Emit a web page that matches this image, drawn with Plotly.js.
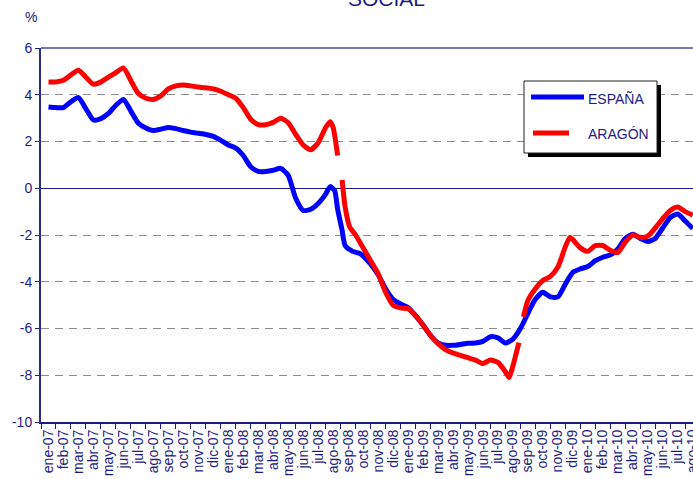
<!DOCTYPE html>
<html>
<head>
<meta charset="utf-8">
<script src="https://cdn.plot.ly/plotly-3.0.1.min.js"></script>
<style>html,body{margin:0;padding:0;overflow:hidden;background:#fff;}</style>
</head>
<body>
<div id="chart" style="width:693px;height:479px;"></div>
<script>
// Month categories (x axis)
const categories = ["ene-07","feb-07","mar-07","abr-07","may-07","jun-07","jul-07","ago-07","sep-07","oct-07","nov-07","dic-07",
  "ene-08","feb-08","mar-08","abr-08","may-08","jun-08","jul-08","ago-08","sep-08","oct-08","nov-08","dic-08",
  "ene-09","feb-09","mar-09","abr-09","may-09","jun-09","jul-09","ago-09","sep-09","oct-09","nov-09","dic-09",
  "ene-10","feb-10","mar-10","abr-10","may-10","jun-10","jul-10","ago-10"];

// ESPAÑA: position (month index) and value (%)
const espanaX = [0,0.5,1,1.5,2,2.5,3,3.5,4,4.5,5,5.5,6,6.5,7,7.5,8,8.5,9,9.5,10,10.5,11,11.5,12,12.5,13,13.5,14,14.5,15,15.5,16,16.5,17,17.5,18,18.5,18.8,19.1,19.3,19.6,19.8,20.3,20.8,21.5,22,22.5,23,23.5,24,24.5,25,25.5,26,26.5,27,27.5,28,28.5,29,29.5,30,30.5,31,31.5,32,32.5,33,33.5,34,34.5,35,35.5,36,36.5,37,37.5,38,38.5,39,39.5,40,40.5,41,41.5,42,42.5,43];
const espanaY = [3.48,3.45,3.45,3.7,3.88,3.4,2.92,2.98,3.2,3.55,3.8,3.3,2.78,2.58,2.47,2.53,2.6,2.55,2.47,2.4,2.35,2.3,2.22,2.05,1.85,1.72,1.4,0.92,0.72,0.72,0.77,0.85,0.55,-0.43,-0.95,-0.9,-0.65,-0.25,0.07,-0.1,-0.9,-1.8,-2.45,-2.7,-2.8,-3.25,-3.7,-4.3,-4.75,-4.95,-5.1,-5.45,-5.85,-6.3,-6.62,-6.72,-6.72,-6.68,-6.63,-6.62,-6.55,-6.35,-6.4,-6.62,-6.45,-6.0,-5.35,-4.75,-4.45,-4.65,-4.65,-4.1,-3.6,-3.45,-3.35,-3.1,-2.95,-2.85,-2.6,-2.15,-1.97,-2.15,-2.28,-2.15,-1.7,-1.25,-1.1,-1.4,-1.72];

// ARAGÓN: position (month index) and value (%); null = break in the line
const aragonX = [0,0.5,1,1.5,2,2.5,3,3.5,4,4.5,5,5.5,6,6.5,7,7.5,8,8.5,9,9.5,10,10.5,11,11.5,12,12.5,13,13.5,14,14.5,15,15.5,16,16.5,17,17.5,18,18.5,18.8,19,19.3,19.45,19.6,19.8,20.1,20.5,21,21.5,22,22.5,23,23.5,24,24.5,25,25.5,26,26.5,27,27.5,28,28.5,29,29.5,30,30.5,30.75,31,31.4,31.55,31.7,32,32.5,33,33.5,34,34.5,34.8,35,35.5,36,36.5,37,37.5,38,38.5,39,39.5,40,40.5,41,41.5,42,42.5,43];
const aragonY = [4.55,4.55,4.62,4.85,5.05,4.75,4.45,4.55,4.75,4.95,5.15,4.6,4.05,3.85,3.8,3.95,4.25,4.38,4.42,4.38,4.33,4.3,4.25,4.15,4.0,3.85,3.45,2.95,2.72,2.72,2.82,3.0,2.8,2.3,1.85,1.65,1.95,2.6,2.85,2.6,1.4,null,0.35,-0.8,-1.65,-2.0,-2.55,-3.1,-3.65,-4.45,-5.0,-5.12,-5.15,-5.45,-5.85,-6.3,-6.65,-6.9,-7.05,-7.15,-7.25,-7.35,-7.5,-7.35,-7.45,-7.85,-8.1,-7.6,-6.6,null,-5.5,-4.8,-4.3,-3.95,-3.77,-3.37,-2.5,-2.1,-2.2,-2.55,-2.7,-2.45,-2.45,-2.65,-2.75,-2.3,-2.0,-2.1,-2.05,-1.7,-1.3,-0.95,-0.8,-1.0,-1.15];

const yTickVals = [-10,-8,-6,-4,-2,0,2,4,6];
const yTickText = ["-10","-8","-6","-4","-2","0","2","4","6"];

const NAVY = '#1c1c84';
const FONT = 'Liberation Sans, Arial, sans-serif';

// pixel -> paper helpers (plot area: x 41..693, y 48..422)
const PL = 41, PW = 652, PT = 48, PH = 374;
const px = x => (x - PL) / PW;
const py = y => (PT + PH - y) / PH;

const traces = [
  {x: espanaX, y: espanaY, name: 'ESPAÑA', type: 'scatter', mode: 'lines',
   line: {color: '#0000ff', width: 5, shape: 'spline', smoothing: 0.6}},
  {x: aragonX, y: aragonY, name: 'ARAGÓN', type: 'scatter', mode: 'lines', connectgaps: false,
   line: {color: '#ff0000', width: 5, shape: 'spline', smoothing: 0.6}}
];

const layout = {
  width: 693, height: 479,
  margin: {l: PL, r: 0, t: PT, b: 57, pad: 0},
  paper_bgcolor: '#fff', plot_bgcolor: '#fff',
  showlegend: false,
  font: {family: FONT, size: 14, color: NAVY},
  xaxis: {
    range: [-0.5, 43.02],
    tickmode: 'array', tickvals: categories.map((c, i) => i), ticktext: categories,
    tickangle: -90, ticks: '', showgrid: false, zeroline: false,
    ticklabeloverflow: 'allow',
    showline: true, linecolor: NAVY, linewidth: 2,
    tickfont: {family: FONT, size: 14, color: NAVY},
    minor: {tickmode: 'linear', tick0: -0.5, dtick: 1, ticks: 'outside', ticklen: 5, tickcolor: NAVY, tickwidth: 1, showgrid: false}
  },
  yaxis: {
    range: [-10, 6],
    tickmode: 'array', tickvals: yTickVals, ticktext: yTickText,
    ticks: 'outside', ticklen: 4, tickcolor: NAVY, tickwidth: 1,
    showline: true, linecolor: '#2a2a90', linewidth: 2,
    showgrid: true, gridcolor: '#8c8c8c', gridwidth: 1, griddash: '8px,6px',
    zeroline: true, zerolinecolor: NAVY, zerolinewidth: 1.2,
    tickfont: {family: FONT, size: 14, color: NAVY}
  },
  shapes: [
    {type: 'line', xref: 'paper', yref: 'paper', x0: 0, x1: 1, y0: 1, y1: 1, line: {color: '#4a4aa0', width: 1.5}},
    {type: 'rect', xref: 'paper', yref: 'paper', x0: px(528), x1: px(661), y0: py(157), y1: py(85), fillcolor: '#000', line: {width: 0}},
    {type: 'rect', xref: 'paper', yref: 'paper', x0: px(524), x1: px(657), y0: py(153), y1: py(81), fillcolor: '#fff', line: {color: '#222', width: 1}},
    {type: 'line', xref: 'paper', yref: 'paper', x0: px(531), x1: px(584), y0: py(97), y1: py(97), line: {color: '#0000ff', width: 5}},
    {type: 'line', xref: 'paper', yref: 'paper', x0: px(533), x1: px(569), y0: py(133), y1: py(133), line: {color: '#ff0000', width: 5}}
  ],
  annotations: [
    {text: 'SOCIAL', xref: 'paper', yref: 'paper', x: px(386.5), y: py(12), xanchor: 'center', yanchor: 'bottom', showarrow: false,
     font: {family: FONT, size: 21, color: NAVY}},
    {text: '%', xref: 'paper', yref: 'paper', x: px(31), y: py(17), xanchor: 'center', yanchor: 'middle', showarrow: false,
     font: {family: FONT, size: 14, color: NAVY}},
    {text: 'ESPAÑA', xref: 'paper', yref: 'paper', x: px(586), y: py(99), xanchor: 'left', yanchor: 'middle', showarrow: false,
     font: {family: FONT, size: 14, color: NAVY}},
    {text: 'ARAGÓN', xref: 'paper', yref: 'paper', x: px(586), y: py(134), xanchor: 'left', yanchor: 'middle', showarrow: false,
     font: {family: FONT, size: 14, color: NAVY}}
  ]
};

Plotly.newPlot('chart', traces, layout, {staticPlot: true, displayModeBar: false});
</script>
</body>
</html>
